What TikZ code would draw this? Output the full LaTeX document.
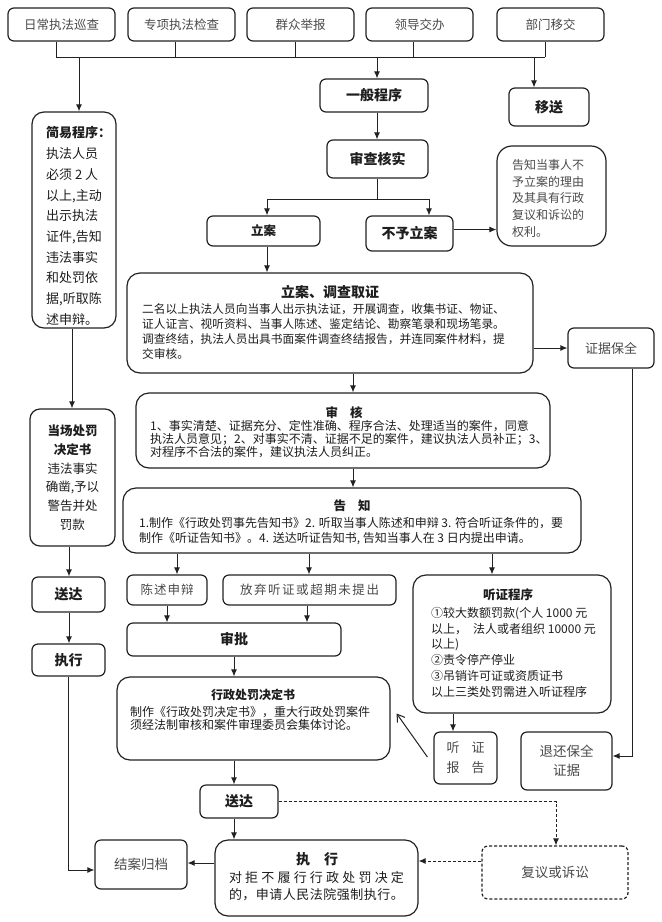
\documentclass[tikz,border=0pt]{standalone}
\usepackage{fontspec}
\setmainfont{Noto Sans CJK SC}
\usetikzlibrary{arrows.meta,calc}
\definecolor{ln}{HTML}{222222}
\definecolor{tg}{HTML}{4A4A4A}
\definecolor{tk}{HTML}{1E1E1E}
\newcommand{\fsz}[2]{\fontsize{#1}{#2}\selectfont}
\tikzset{
  box/.style={draw=ln,line width=1.2pt,rounded corners=6pt,inner sep=0pt,align=center,text=tk},
  bigbox/.style={box,rounded corners=13pt},
  dbox/.style={box,dash pattern=on 3pt off 2pt},
  bt/.style={font=\bfseries\fsz{14}{16}},
  gt/.style={text=tg,font=\fsz{13}{15}},
  conn/.style={draw=ln,line width=1pt},
  arr/.style={conn,-{Latex[length=7pt,width=6pt]}},
  darr/.style={arr,dash pattern=on 3pt off 2pt},
  oarr/.style={conn,-{Straight Barb[length=7pt,width=9pt]}},
  lbl/.style={inner sep=0pt,text=tk},
}
\newcommand{\mkbox}[7]{\node[box,#6,minimum width={(#4-#2)*1pt},minimum height={(#5-#3)*1pt}] (#1) at ({(#2+#4)/2},{(#3+#5)/2}) {#7};}
\begin{document}
\begin{tikzpicture}[x=1pt,y=-1pt]
\useasboundingbox (0,0) rectangle (662,922);
\fill[white] (0,0) rectangle (662,922);
% top row
\mkbox{t1}{8}{8}{115}{41}{gt,font=\fsz{12.5}{14}}{日常执法巡查}
\mkbox{t2}{128}{8}{235}{41}{gt,font=\fsz{12.5}{14}}{专项执法检查}
\mkbox{t3}{247}{8}{354}{41}{gt,font=\fsz{12.5}{14}}{群众举报}
\mkbox{t4}{366}{8}{473}{41}{gt,font=\fsz{12.5}{14}}{领导交办}
\mkbox{t5}{497}{8}{604}{41}{gt,font=\fsz{12.5}{14}}{部门移交}
\coordinate (b1) at (56,57);
\coordinate (b2) at (175,57);
\coordinate (b3) at (295,57);
\coordinate (b4) at (413,57);
\coordinate (b5) at (545,57);
\draw[conn] (t1.south -| b1) -- (b1);
\draw[conn] (t2.south -| b2) -- (b2);
\draw[conn] (t3.south -| b3) -- (b3);
\draw[conn] (t4.south -| b4) -- (b4);
\draw[conn] (t5.south -| b5) -- (b5);
\draw[conn] (b1) -- (b5);
\coordinate (bs) at (79,57);
\coordinate (bg) at (377,57);
\coordinate (by) at (534,57);
% general procedure
\mkbox{gen}{320}{79}{428}{112}{bt}{一般程序}
\mkbox{ys}{509}{88}{589}{126}{bt}{移送}
\mkbox{jy}{32}{112}{116}{328}{rounded corners=12pt}{}
\node[lbl,anchor=north west,align=left,font=\fsz{13}{20.7}] (jyt) at (46,126.5)
  {{\bfseries 简易程序：}\\执法人员\\必须 2 人\\以上,主动\\出示执法\\证件,告知\\违法事实\\和处罚依\\据,听取陈\\述申辩。};
\draw[arr] (bs) -- (bs |- jy.north);
\draw[arr] (bg) -- (bg |- gen.north);
\draw[arr] (by) -- (by |- ys.north);
\mkbox{sc}{327}{140}{428}{178}{bt}{审查核实}
\draw[arr] (gen.south -| bg) -- (sc.north -| bg);
\coordinate (br) at (377,199);
\coordinate (brl) at (267,199);
\coordinate (brr) at (429,199);
\draw[conn] (sc.south -| br) -- (br);
\draw[conn] (brl) -- (brr);
\mkbox{la}{207}{216}{320}{246}{font=\bfseries\fsz{12.5}{14}}{立案}
\mkbox{byla}{366}{216}{453}{251}{bt}{不予立案}
\draw[arr] (brl) -- (brl |- la.north);
\draw[arr] (brr) -- (brr |- byla.north);
\mkbox{nt}{497}{146}{606}{246}{rounded corners=15pt}{}
\node[lbl,anchor=north west,align=left,text=tg,font=\fsz{12}{16.8}] (ntt) at (512,159)
  {告知当事人不\\予立案的理由\\及其具有行政\\复议和诉讼的\\权利。};
\draw[arr] ([yshift=4pt]byla.east) -- ([yshift=4pt]byla.east -| nt.west);
% investigation
\mkbox{inv}{127}{273}{533}{373}{bigbox}{}
\draw[arr] (la.south -| brl) -- (inv.north -| brl);
\node[lbl,font=\bfseries\fsz{14}{16}] (invh) at (330,292) {立案、调查取证};
\node[lbl,anchor=north west,align=left,font=\fsz{11.7}{15.3}] (invb) at (142,303)
  {二名以上执法人员向当事人出示执法证，开展调查，收集书证、物证、\\证人证言、视听资料、当事人陈述、鉴定结论、勘察笔录和现场笔录。\\调查终结，执法人员出具书面案件调查终结报告，并连同案件材料，提\\交审核。};
\mkbox{bq}{568}{328}{654}{368}{gt}{证据保全}
\draw[arr] (inv.east |- bq.west) -- (bq.west);
% review
\coordinate (cx) at (353,0);
\mkbox{sh}{136}{393}{550}{468}{bigbox}{}
\draw[arr] (inv.south -| cx) -- (sh.north -| cx);
\node[lbl,font=\bfseries\fsz{12.5}{14}] (shh) at (344,413) {审\hspace{12pt}核};
\node[lbl,anchor=north west,align=left,font=\fsz{12}{13}] (shb) at (150,420)
  {1、事实清楚、证据充分、定性准确、程序合法、处理适当的案件，同意\\执法人员意见；2、对事实不清、证据不足的案件，建议执法人员补正；3、\\对程序不合法的案件，建议执法人员纠正。};
% notice
\mkbox{gz}{123}{488}{581}{553}{bigbox}{}
\draw[arr] (sh.south -| cx) -- (gz.north -| cx);
\node[lbl,font=\bfseries\fsz{12.5}{14}] (gzh) at (352,506) {告\hspace{12pt}知};
\node[lbl,anchor=north west,align=left,font=\fsz{12}{15}] (gzb) at (139,517)
  {1.制作《行政处罚事先告知书》2. 听取当事人陈述和申辩 3. 符合听证条件的，要\\制作《听证告知书》。4. 送达听证告知书, 告知当事人在 3 日内提出申请。};
\coordinate (g1) at (177,0);
\coordinate (g2) at (309,0);
\coordinate (g3) at (492,0);
\mkbox{cs}{127}{575}{207}{605}{text=tg,font=\fsz{12.5}{14}}{\hbox to 53pt{陈\hfill 述\hfill 申\hfill 辩}}
\mkbox{fq}{223}{575}{396}{605}{text=tg,font=\fsz{12.5}{14}}{\hbox to 139pt{放\hfill 弃\hfill 听\hfill 证\hfill 或\hfill 超\hfill 期\hfill 未\hfill 提\hfill 出}}
\mkbox{tz}{413}{575}{611}{713}{bigbox}{}
\node[lbl,font=\bfseries\fsz{12.5}{14}] (tzh) at (508,595) {听证程序};
\node[lbl,anchor=north west,align=left,font=\fsz{12}{15.8}] (tzb) at (431,607)
  {①较大数额罚款(个人 1000 元\\以上，\hspace{6pt}法人或者组织 10000 元\\以上)\\②责令停产停业\\③吊销许可证或资质证书\\以上三类处罚需进入听证程序};
\draw[arr] (gz.south -| g1) -- (cs.north -| g1);
\draw[arr] (gz.south -| g2) -- (fq.north -| g2);
\draw[arr] (gz.south -| g3) -- (tz.north -| g3);
% approval
\coordinate (s1) at (167,0);
\coordinate (s2) at (307,0);
\mkbox{sp}{127}{623}{341}{656}{bt}{审批}
\draw[arr] (cs.south -| s1) -- (sp.north -| s1);
\draw[arr] (fq.south -| s2) -- (sp.north -| s2);
\coordinate (cj) at (234,0);
\mkbox{jd}{117}{677}{390}{760}{bigbox}{}
\draw[arr] (sp.south -| cj) -- (jd.north -| cj);
\node[lbl,font=\bfseries\fsz{12}{14}] (jdh) at (253,695) {行政处罚决定书};
\node[lbl,anchor=north west,align=left,font=\fsz{12}{13.3}] (jdb) at (130,706)
  {制作《行政处罚决定书》，重大行政处罚案件\\须经法制审核和案件审理委员会集体讨论。};
% hearing report, return evidence
\coordinate (hx) at (453,0);
\mkbox{tb}{434}{732}{497}{784}{text=tg,font=\fsz{13}{20}}{听\hspace{12pt}证\\报\hspace{12pt}告}
\draw[arr] (tz.south -| hx) -- (tb.north -| hx);
\draw[oarr] ($(tb.west)+(-6,-1)$) -- ($(jd.east)+(6,-5)$);
\mkbox{th}{521}{732}{612}{790}{text=tg,font=\fsz{13.5}{19}}{退还保全\\证据}
\coordinate (rv) at (632,756);
\draw[arr] (bq.south -| rv) -- (rv) -- (rv -| th.east);
% delivery and execution
\mkbox{sd2}{200}{785}{278}{818}{bt}{送达}
\draw[arr] (jd.south -| cj) -- (sd2.north -| cj);
\mkbox{zx2}{215}{840}{418}{916}{bigbox}{}
\draw[arr] (sd2.south -| cj) -- (zx2.north -| cj);
\node[lbl,font=\bfseries\fsz{14}{16}] (zxh) at (317,859) {执\hspace{14pt}行};
\node[lbl,align=center,font=\fsz{13}{17}] (zxb) at (316.5,886.5)
  {\hbox to 175pt{对\hfill 拒\hfill 不\hfill 履\hfill 行\hfill 行\hfill 政\hfill 处\hfill 罚\hfill 决\hfill 定}\\\hbox to 175pt{的\hfill ，\hfill 申\hfill 请\hfill 人\hfill 民\hfill 法\hfill 院\hfill 强\hfill 制\hfill 执\hfill 行\hfill 。}};
\mkbox{ja}{95}{840}{187}{889}{gt,font=\fsz{13.5}{15}}{结案归档}
\draw[arr] ([yshift=15pt]zx2.west) -- ([yshift=15pt]zx2.west -| ja.east);
\mkbox{fy}{482}{846}{628}{899}{dbox,gt,font=\fsz{13.5}{15}}{复议或诉讼}
\coordinate (dc1) at (556,0);
\draw[darr] (sd2.east) -- (sd2.east -| dc1) -- (dc1 |- fy.north);
\draw[darr] ([yshift=11.5pt]fy.west) -- ([yshift=11.5pt]fy.west -| zx2.east);
% left column
\coordinate (lc) at (72,0);
\coordinate (lc2) at (69,0);
\mkbox{dc}{30}{409}{115}{546}{rounded corners=10pt,font=\fsz{12.5}{18.7}}{{\bfseries 当场处罚}\\{\bfseries 决定书}\\违法事实\\确凿,予以\\警告并处\\罚款}
\draw[arr] (jy.south -| lc) -- (dc.north -| lc);
\mkbox{sd1}{32}{577}{105}{612}{bt}{送达}
\draw[arr] (dc.south -| lc2) -- (sd1.north -| lc2);
\mkbox{zx1}{32}{644}{105}{676}{bt}{执行}
\draw[arr] (sd1.south -| lc2) -- (zx1.north -| lc2);
\coordinate (lj) at (68,870);
\draw[arr] (zx1.south -| lj) -- (lj) -- (lj -| ja.west);
\end{tikzpicture}
\end{document}
